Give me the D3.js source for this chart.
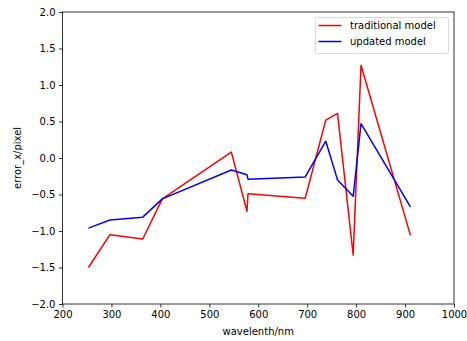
<!DOCTYPE html>
<html>
<head>
<meta charset="utf-8">
<script src="https://cdn.jsdelivr.net/npm/d3@7"></script>
<style>
  body { margin: 0; background: #fff; }
  svg { font-family: "DejaVu Sans", sans-serif; }
</style>
</head>
<body>
<svg id="chart" width="467" height="341"></svg>
<script>
// wavelengths shared by both series
const wavelengths = [253, 297, 364, 404, 545, 577, 579, 696, 738, 762, 794, 810, 911];
const traditional = [-1.50, -1.05, -1.11, -0.56, 0.08, -0.73, -0.49, -0.55, 0.52, 0.61, -1.33, 1.27, -1.06];
const updated = [-0.96, -0.85, -0.81, -0.56, -0.165, -0.23, -0.29, -0.26, 0.23, -0.30, -0.525, 0.47, -0.67];
const xTicks = [200, 300, 400, 500, 600, 700, 800, 900, 1000];
const yTicks = [-2.0, -1.5, -1.0, -0.5, 0.0, 0.5, 1.0, 1.5, 2.0];
const seriesNames = ["traditional model", "updated model"];
const seriesColors = ["#ff0000", "#0000ff"];

const svg = d3.select("#chart");
const plotL = 62.5, plotR = 454, plotT = 12, plotB = 304;

const x = d3.scaleLinear().domain([200, 1000]).range([plotL, plotR]);
const y = d3.scaleLinear().domain([-2, 2]).range([plotB, plotT]);

const line = d3.line().x(d => x(d[0])).y(d => y(d[1]));

[traditional, updated].forEach((vals, i) => {
    svg.append("path")
        .datum(wavelengths.map((w, j) => [w, vals[j]]))
        .attr("d", line)
        .attr("fill", "none")
        .attr("stroke", seriesColors[i])
        .attr("stroke-width", 1.5)
        .attr("stroke-linejoin", "round");
});

// frame
svg.append("rect")
    .attr("x", plotL).attr("y", plotT)
    .attr("width", plotR - plotL).attr("height", plotB - plotT)
    .attr("fill", "none").attr("stroke", "#000").attr("stroke-width", 0.8);

const xAxis = svg.append("g")
    .attr("transform", `translate(0,${plotB})`)
    .call(d3.axisBottom(x).tickValues(xTicks).tickFormat(d3.format("d")).tickSizeOuter(0).tickSize(3.5).tickPadding(3.5));
const yAxis = svg.append("g")
    .attr("transform", `translate(${plotL},0)`)
    .call(d3.axisLeft(y).tickValues(yTicks).tickFormat(d => d3.format(".1f")(d).replace("-", "\u2212")).tickSizeOuter(0).tickSize(3.5).tickPadding(3.5));

[xAxis, yAxis].forEach(g => {
    g.select(".domain").remove();
    g.selectAll("line").attr("stroke", "#000").attr("stroke-width", 0.8);
    g.selectAll("text").attr("font-size", 10).attr("fill", "#000")
        .attr("font-family", "DejaVu Sans, sans-serif");
});

svg.append("text")
    .attr("x", (plotL + plotR) / 2).attr("y", 335)
    .attr("text-anchor", "middle").attr("font-size", 10)
    .text("wavelenth/nm");

svg.append("text")
    .attr("transform", `translate(21,${(plotT + plotB) / 2}) rotate(-90)`)
    .attr("text-anchor", "middle").attr("font-size", 10)
    .text("error_x/pixel");

// legend
const legend = svg.append("g");
legend.append("rect")
    .attr("x", 315.5).attr("y", 17.5).attr("width", 133).attr("height", 36).attr("rx", 2)
    .attr("fill", "#fff").attr("fill-opacity", 0.8)
    .attr("stroke", "#d0d0d0").attr("stroke-width", 0.8);
seriesNames.forEach((name, i) => {
    const ly = 25.5 + i * 16;
    legend.append("line")
        .attr("x1", 318.5).attr("x2", 341.5).attr("y1", ly).attr("y2", ly)
        .attr("stroke", seriesColors[i]).attr("stroke-width", 1.5);
    legend.append("text")
        .attr("x", 350).attr("y", ly).attr("dy", "0.35em")
        .attr("font-size", 10).text(name);
});
</script>
</body>
</html>
